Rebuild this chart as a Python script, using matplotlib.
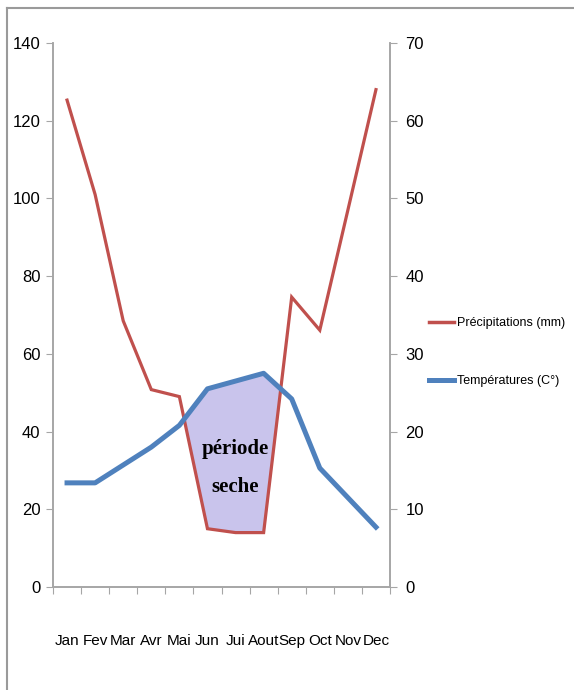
import numpy as np
import matplotlib
matplotlib.use("Agg")
import matplotlib.pyplot as plt
from matplotlib.lines import Line2D

plt.rcParams['font.family'] = ['Liberation Sans', 'DejaVu Sans']

mois = ["Jan", "Fev", "Mar", "Avr", "Mai", "Jun", "Jui", "Aout", "Sep", "Oct", "Nov", "Dec"]
precip = [125.3, 101, 68.5, 50.8, 49, 15, 14, 14, 74.6, 66.1, 97, 128]
temp = [13.4, 13.4, 15.7, 18, 20.8, 25.5, 26.5, 27.5, 24.2, 15.3, 11.5, 7.7]

rouge = "#c0504d"
bleu = "#4f81bd"
gris = "#a6a6a6"

fig = plt.figure(figsize=(5.74, 6.90), dpi=100)
ax = fig.add_axes([53/574, 1-587/690, 337/574, 544/690])
ax2 = ax.twinx()

x = np.arange(len(mois))

# zone seche : temperature (x2) au dessus des precipitations
xf = np.linspace(0, len(mois)-1, 2000)
p_f = np.interp(xf, x, precip)
t_f = np.interp(xf, x, np.array(temp)*2)
ax.fill_between(xf, p_f, t_f, where=t_f > p_f, color="#c9c4ec", zorder=1,
                edgecolor="#b8b0dc", linewidth=0.6)

ax.plot(x, precip, color=rouge, lw=2.3, zorder=2, solid_joinstyle="miter")
ax2.plot(x, temp, color=bleu, lw=3.6, zorder=3, solid_joinstyle="round")

ax.text(6, 30.5, "période\nseche", ha="center", va="center", fontsize=15,
        fontweight="bold", family="Liberation Serif", linespacing=2.2, zorder=4)

ax.set_ylim(0, 140)
ax2.set_ylim(0, 70)
ax.set_yticks(np.arange(0, 141, 20))
ax2.set_yticks(np.arange(0, 71, 10))
ax.set_xlim(-0.5, 11.5)

# graduations entre les mois, noms au centre
ax.set_xticks(np.arange(-0.5, 12, 1))
ax.set_xticklabels([])
ax.set_xticks(x, minor=True)
ax.set_xticklabels(mois, minor=True)
ax.tick_params(axis="x", which="major", length=5, color=gris, direction="out")
ax.tick_params(axis="x", which="minor", length=0, pad=34, labelsize=11)
ax.tick_params(axis="y", length=5, color=gris, labelsize=12, pad=4)
ax2.tick_params(axis="y", length=5, color=gris, labelsize=12, pad=6)

for a in (ax, ax2):
    a.spines["top"].set_visible(False)
    for s in ("left", "right", "bottom"):
        a.spines[s].set_color(gris)
        a.spines[s].set_linewidth(1.2)

handles = [Line2D([], [], color=rouge, lw=2.5), Line2D([], [], color=bleu, lw=3.6)]
fig.legend(handles, ["Précipitations (mm)", "Températures (C°)"], loc="center left",
           bbox_to_anchor=(418/574, 1-352/690), frameon=False, fontsize=9,
           handlelength=2.0, handletextpad=0.2, labelspacing=3.7)

# cadre haut et gauche
fig.add_artist(Line2D([7/574, 1], [1-8/690, 1-8/690], color="#9a9a9a", lw=1.5))
fig.add_artist(Line2D([7/574, 7/574], [0, 1-8/690], color="#9a9a9a", lw=1.5))

fig.savefig("out.png", dpi=100)
